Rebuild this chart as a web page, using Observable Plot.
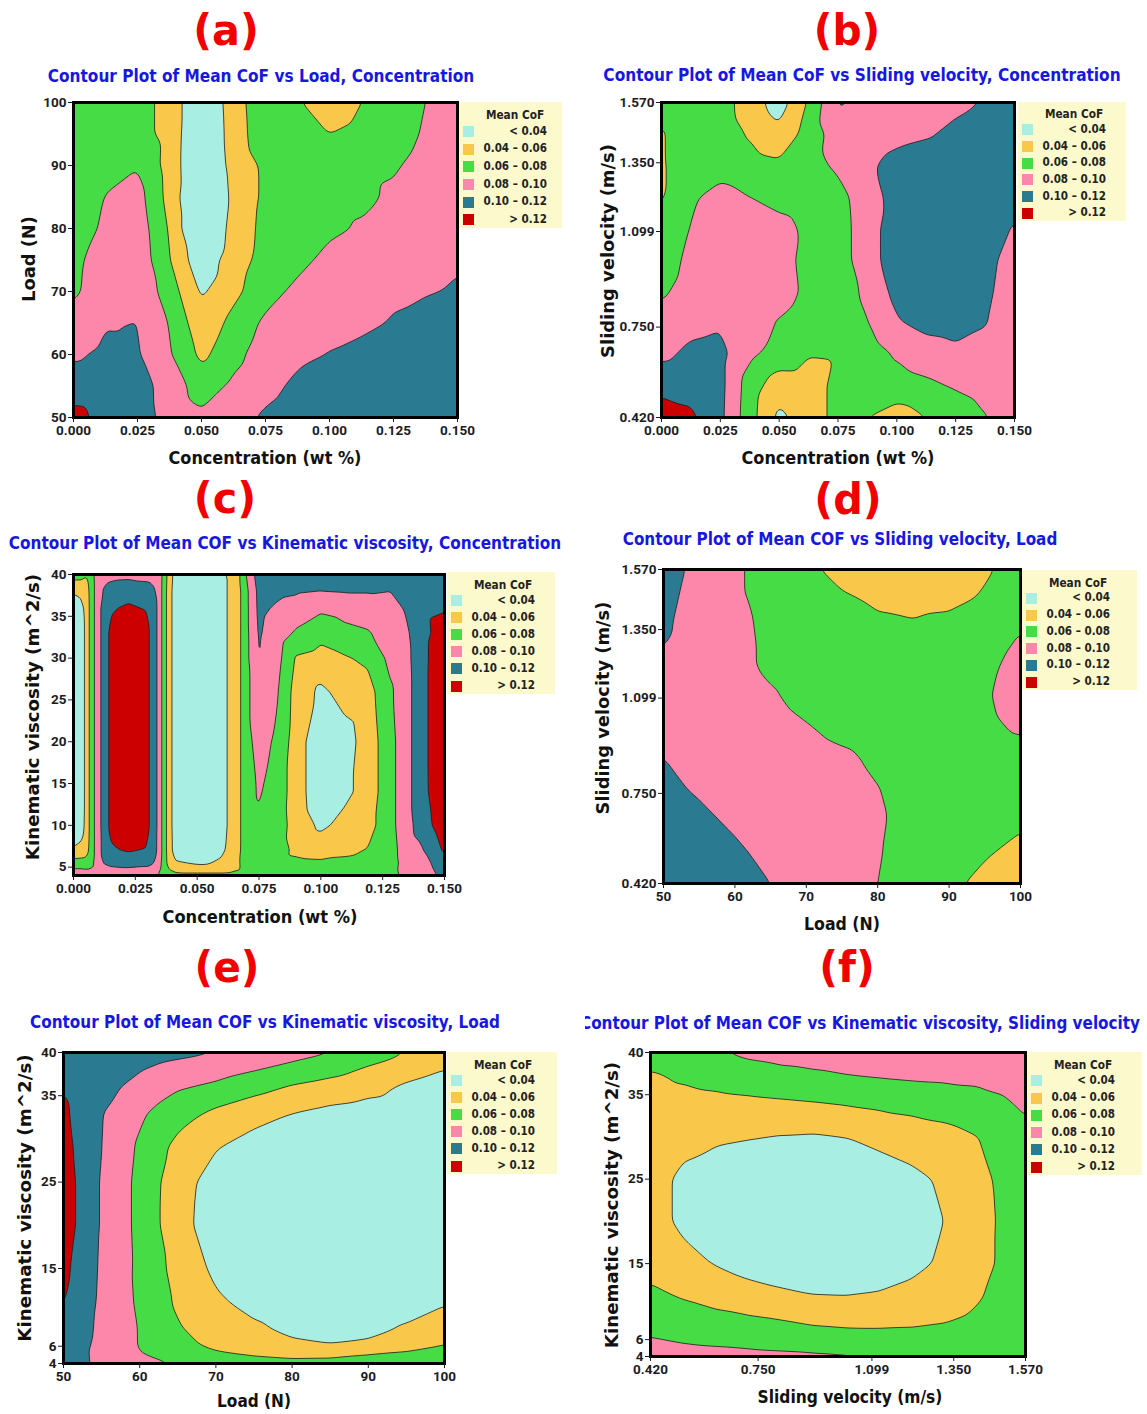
<!DOCTYPE html>
<html>
<head>
<meta charset="utf-8">
<script src="https://cdn.jsdelivr.net/npm/d3@7"></script>
<script src="https://cdn.jsdelivr.net/npm/@observablehq/plot@0.6"></script>
<style>
  body { margin: 0; background: #fff; }
  #page { position: relative; width: 1147px; height: 1414px; overflow: hidden; background: #fff; font-family: Roboto, "DejaVu Sans", sans-serif; }
  .txt { position: absolute; white-space: nowrap; line-height: 1; }
  .tag { color: #f20000; font-family: "DejaVu Sans", sans-serif; font-weight: bold; font-size: 42px; }
  .ttl { color: #1717e2; font-family: "DejaVu Sans", sans-serif; font-weight: bold; font-size: 17px; }
  .axt { color: #111; font-family: "DejaVu Sans", sans-serif; font-weight: bold; font-size: 17px; }
  .leg { position: absolute; background: #fcf9cc; }
  .leg .lt { position: absolute; font-family: "DejaVu Sans", sans-serif; font-size: 12px; font-weight: bold; color: #222; white-space: nowrap; line-height: 1; transform: translate(-50%, -50%) scaleX(0.88); }
  .leg .sw { position: absolute; width: 11px; height: 11px; }
  .leg .ll { position: absolute; font-family: "DejaVu Sans", sans-serif; font-size: 11.5px; font-weight: bold; color: #222; white-space: pre; line-height: 1; transform: translate(-100%, -50%) scaleX(0.9); transform-origin: 100% 50%; }
</style>
</head>
<body>
<div id="page"></div>
<script>
// ---- Mean CoF bands shared by all six panels ----
const cofBreaks = [0.04, 0.06, 0.08, 0.10, 0.12];
const cofColors = ["#a8eee3", "#f9c84b", "#45dc45", "#fd87aa", "#2a7a91", "#cc0000"];
const legendLabels = ["< 0.04", "0.04 \u2013 0.06", "0.06 \u2013 0.08", "0.08 \u2013 0.10", "0.10 \u2013 0.12", "> 0.12"];

// ---- axis ticks ----
const concTicks = [0, 0.025, 0.05, 0.075, 0.1, 0.125, 0.15];
const loadTicksA = [50, 60, 70, 80, 90, 100];
const loadTicks = [50, 60, 70, 80, 90, 100];
const velTicks = [0.42, 0.75, 1.099, 1.35, 1.57];
const viscTicksC = [5, 10, 15, 20, 25, 30, 35, 40];
const viscTicks = [4, 6, 15, 25, 35, 40];

// ---- (a) Mean CoF over Concentration x Load (rows follow aLoad) ----
const aConc = [0, 0.0125, 0.025, 0.0375, 0.05, 0.0625, 0.075, 0.0875, 0.1, 0.1125, 0.125, 0.1375, 0.15];
const aLoad = [100, 95, 90, 85, 80, 75, 70, 65, 60, 55, 50];
const aCoF = [
  [0.070, 0.072, 0.068, 0.053, 0.020, 0.050, 0.076, 0.062, 0.048, 0.060, 0.070, 0.080, 0.090],
  [0.066, 0.072, 0.068, 0.053, 0.018, 0.049, 0.074, 0.068, 0.060, 0.066, 0.072, 0.082, 0.092],
  [0.061, 0.072, 0.079, 0.052, 0.018, 0.047, 0.064, 0.072, 0.074, 0.076, 0.078, 0.086, 0.094],
  [0.062, 0.081, 0.088, 0.053, 0.012, 0.045, 0.064, 0.072, 0.075, 0.076, 0.083, 0.088, 0.094],
  [0.068, 0.084, 0.092, 0.058, 0.010, 0.049, 0.065, 0.072, 0.076, 0.082, 0.088, 0.092, 0.096],
  [0.076, 0.088, 0.094, 0.061, 0.025, 0.052, 0.066, 0.074, 0.086, 0.092, 0.096, 0.098, 0.099],
  [0.077, 0.090, 0.096, 0.070, 0.037, 0.055, 0.072, 0.085, 0.094, 0.097, 0.098, 0.099, 0.101],
  [0.086, 0.099, 0.1005, 0.079, 0.046, 0.066, 0.084, 0.092, 0.096, 0.097, 0.101, 0.105, 0.107],
  [0.097, 0.104, 0.102, 0.082, 0.055, 0.074, 0.090, 0.096, 0.1005, 0.104, 0.108, 0.110, 0.112],
  [0.110, 0.110, 0.108, 0.092, 0.070, 0.084, 0.094, 0.104, 0.110, 0.112, 0.113, 0.114, 0.115],
  [0.126, 0.114, 0.108, 0.094, 0.084, 0.093, 0.103, 0.110, 0.114, 0.115, 0.116, 0.117, 0.118]
];

// ---- (b) Mean CoF over Concentration x Sliding velocity (rows follow bVel) ----
const bConc = [0, 0.0125, 0.025, 0.0375, 0.05, 0.0625, 0.075, 0.0875, 0.1, 0.1125, 0.125, 0.1375, 0.15];
const bVel = [1.57, 1.455, 1.34, 1.225, 1.11, 0.995, 0.88, 0.765, 0.65, 0.535, 0.42];
const bCoF = [
  [0.070, 0.072, 0.069, 0.050, 0.030, 0.062, 0.102, 0.095, 0.086, 0.090, 0.096, 0.101, 0.108],
  [0.058, 0.072, 0.070, 0.058, 0.045, 0.068, 0.090, 0.090, 0.095, 0.098, 0.104, 0.108, 0.110],
  [0.058, 0.070, 0.072, 0.068, 0.064, 0.072, 0.084, 0.097, 0.106, 0.110, 0.112, 0.112, 0.110],
  [0.058, 0.077, 0.087, 0.080, 0.072, 0.068, 0.072, 0.093, 0.106, 0.112, 0.115, 0.114, 0.112],
  [0.064, 0.081, 0.092, 0.095, 0.088, 0.075, 0.070, 0.092, 0.110, 0.115, 0.116, 0.112, 0.098],
  [0.070, 0.085, 0.095, 0.097, 0.090, 0.072, 0.070, 0.092, 0.110, 0.118, 0.117, 0.106, 0.092],
  [0.077, 0.088, 0.094, 0.096, 0.092, 0.074, 0.068, 0.085, 0.106, 0.116, 0.116, 0.104, 0.090],
  [0.088, 0.095, 0.098, 0.093, 0.078, 0.066, 0.066, 0.079, 0.098, 0.106, 0.108, 0.101, 0.090],
  [0.096, 0.104, 0.106, 0.084, 0.072, 0.061, 0.062, 0.070, 0.082, 0.090, 0.095, 0.094, 0.092],
  [0.114, 0.113, 0.106, 0.070, 0.048, 0.050, 0.066, 0.070, 0.072, 0.076, 0.082, 0.088, 0.092],
  [0.131, 0.124, 0.105, 0.068, 0.035, 0.050, 0.066, 0.060, 0.050, 0.060, 0.068, 0.079, 0.090]
];

// ---- (c) Mean CoF over Concentration x Kinematic viscosity (one column per cConc entry, values follow cVisc) ----
const cConc = [0, 0.003, 0.0056, 0.0071, 0.0098, 0.0123, 0.015, 0.0224, 0.0298, 0.0327, 0.0348, 0.0366, 0.0386, 0.041,
               0.052, 0.0655, 0.069, 0.0748, 0.082, 0.09, 0.1, 0.1095, 0.119, 0.128, 0.134, 0.14, 0.15];
const cVisc = [40, 38, 36, 33, 30, 26, 20, 14, 10, 7, 5.5, 4];
const cCoFColumns = [
  [0.070, 0.042, 0.030, 0.025, 0.025, 0.025, 0.025, 0.025, 0.028, 0.042, 0.070, 0.092],
  [0.068, 0.045, 0.033, 0.028, 0.028, 0.028, 0.028, 0.028, 0.030, 0.045, 0.070, 0.092],
  [0.062, 0.052, 0.050, 0.050, 0.050, 0.050, 0.050, 0.050, 0.050, 0.055, 0.070, 0.090],
  [0.072, 0.070, 0.070, 0.070, 0.070, 0.070, 0.070, 0.070, 0.070, 0.070, 0.074, 0.090],
  [0.090, 0.090, 0.090, 0.090, 0.090, 0.090, 0.090, 0.090, 0.090, 0.090, 0.090, 0.090],
  [0.092, 0.102, 0.110, 0.110, 0.110, 0.110, 0.110, 0.110, 0.110, 0.108, 0.101, 0.090],
  [0.094, 0.108, 0.118, 0.124, 0.124, 0.124, 0.124, 0.124, 0.124, 0.118, 0.104, 0.090],
  [0.095, 0.112, 0.123, 0.140, 0.145, 0.145, 0.145, 0.145, 0.140, 0.122, 0.106, 0.090],
  [0.094, 0.108, 0.118, 0.124, 0.124, 0.124, 0.124, 0.124, 0.124, 0.118, 0.104, 0.090],
  [0.092, 0.102, 0.110, 0.110, 0.110, 0.110, 0.110, 0.110, 0.110, 0.108, 0.100, 0.088],
  [0.090, 0.090, 0.090, 0.090, 0.090, 0.090, 0.090, 0.090, 0.090, 0.090, 0.086, 0.076],
  [0.072, 0.070, 0.070, 0.070, 0.070, 0.070, 0.070, 0.070, 0.070, 0.070, 0.070, 0.070],
  [0.052, 0.050, 0.050, 0.050, 0.050, 0.050, 0.050, 0.050, 0.050, 0.050, 0.052, 0.066],
  [0.033, 0.030, 0.030, 0.030, 0.030, 0.030, 0.030, 0.030, 0.030, 0.032, 0.042, 0.066],
  [0.028, 0.025, 0.025, 0.025, 0.025, 0.025, 0.025, 0.025, 0.025, 0.027, 0.036, 0.066],
  [0.045, 0.045, 0.045, 0.045, 0.045, 0.045, 0.045, 0.045, 0.045, 0.046, 0.050, 0.066],
  [0.075, 0.070, 0.070, 0.070, 0.070, 0.070, 0.070, 0.070, 0.070, 0.070, 0.070, 0.068],
  [0.110, 0.105, 0.104, 0.102, 0.101, 0.095, 0.088, 0.082, 0.077, 0.072, 0.070, 0.068],
  [0.110, 0.104, 0.098, 0.092, 0.088, 0.083, 0.077, 0.072, 0.070, 0.068, 0.066, 0.066],
  [0.108, 0.102, 0.093, 0.077, 0.058, 0.052, 0.050, 0.050, 0.052, 0.056, 0.064, 0.068],
  [0.110, 0.100, 0.084, 0.066, 0.053, 0.036, 0.025, 0.025, 0.036, 0.052, 0.063, 0.068],
  [0.110, 0.101, 0.088, 0.074, 0.058, 0.047, 0.032, 0.035, 0.046, 0.056, 0.064, 0.068],
  [0.110, 0.101, 0.092, 0.078, 0.064, 0.052, 0.048, 0.048, 0.052, 0.061, 0.066, 0.068],
  [0.110, 0.100, 0.095, 0.090, 0.085, 0.077, 0.074, 0.074, 0.074, 0.072, 0.072, 0.074],
  [0.112, 0.106, 0.101, 0.095, 0.092, 0.090, 0.090, 0.090, 0.090, 0.088, 0.086, 0.084],
  [0.115, 0.115, 0.113, 0.112, 0.112, 0.112, 0.112, 0.112, 0.108, 0.096, 0.090, 0.086],
  [0.099, 0.112, 0.118, 0.130, 0.135, 0.136, 0.136, 0.135, 0.132, 0.123, 0.112, 0.106]
];

// ---- (d) Mean CoF over Load x Sliding velocity (rows follow dVel) ----
const dLoad = [50, 55, 60, 65, 70, 75, 80, 85, 90, 95, 100];
const dVel = [1.57, 1.455, 1.34, 1.225, 1.11, 0.995, 0.88, 0.765, 0.65, 0.535, 0.42];
const dCoF = [
  [0.106, 0.096, 0.083, 0.072, 0.064, 0.054, 0.050, 0.050, 0.052, 0.058, 0.066],
  [0.104, 0.094, 0.083, 0.075, 0.068, 0.063, 0.058, 0.056, 0.057, 0.062, 0.070],
  [0.102, 0.094, 0.085, 0.076, 0.070, 0.066, 0.064, 0.063, 0.066, 0.072, 0.080],
  [0.098, 0.093, 0.086, 0.076, 0.071, 0.069, 0.068, 0.069, 0.071, 0.076, 0.085],
  [0.096, 0.094, 0.090, 0.082, 0.074, 0.071, 0.070, 0.071, 0.073, 0.078, 0.088],
  [0.097, 0.095, 0.092, 0.087, 0.081, 0.075, 0.072, 0.071, 0.072, 0.076, 0.083],
  [0.100, 0.096, 0.093, 0.090, 0.087, 0.083, 0.077, 0.072, 0.070, 0.070, 0.072],
  [0.104, 0.098, 0.095, 0.092, 0.089, 0.086, 0.0805, 0.074, 0.070, 0.068, 0.067],
  [0.108, 0.104, 0.097, 0.093, 0.090, 0.086, 0.082, 0.074, 0.069, 0.066, 0.063],
  [0.112, 0.108, 0.103, 0.095, 0.090, 0.086, 0.081, 0.074, 0.068, 0.062, 0.055],
  [0.116, 0.112, 0.107, 0.100, 0.093, 0.087, 0.080, 0.072, 0.064, 0.055, 0.050]
];

// ---- (e) Mean CoF over Load x Kinematic viscosity (rows follow eVisc) ----
const eLoad = [50, 52, 55, 60, 65, 70, 75, 80, 85, 90, 95, 100];
const eVisc = [40, 38, 36, 33, 29, 25, 20, 15, 11, 8, 6, 5, 4];
const eCoF = [
  [0.118, 0.115, 0.112, 0.108, 0.104, 0.1005, 0.094, 0.087, 0.081, 0.071, 0.060, 0.052],
  [0.118, 0.115, 0.109, 0.101, 0.094, 0.088, 0.081, 0.074, 0.067, 0.057, 0.048, 0.040],
  [0.119, 0.114, 0.105, 0.095, 0.082, 0.076, 0.067, 0.058, 0.052, 0.046, 0.037, 0.030],
  [0.124, 0.114, 0.101, 0.083, 0.068, 0.056, 0.047, 0.040, 0.035, 0.032, 0.030, 0.028],
  [0.127, 0.116, 0.100, 0.077, 0.054, 0.041, 0.032, 0.028, 0.026, 0.025, 0.025, 0.025],
  [0.128, 0.118, 0.098, 0.075, 0.048, 0.032, 0.026, 0.024, 0.024, 0.024, 0.024, 0.024],
  [0.128, 0.118, 0.098, 0.075, 0.047, 0.030, 0.025, 0.024, 0.024, 0.024, 0.024, 0.024],
  [0.125, 0.114, 0.097, 0.076, 0.053, 0.036, 0.028, 0.025, 0.025, 0.025, 0.026, 0.028],
  [0.121, 0.112, 0.096, 0.077, 0.057, 0.043, 0.035, 0.031, 0.029, 0.030, 0.033, 0.039],
  [0.114, 0.109, 0.095, 0.079, 0.062, 0.050, 0.043, 0.036, 0.033, 0.035, 0.042, 0.048],
  [0.112, 0.106, 0.094, 0.079, 0.066, 0.056, 0.049, 0.044, 0.041, 0.044, 0.051, 0.061],
  [0.112, 0.105, 0.093, 0.081, 0.071, 0.064, 0.059, 0.056, 0.057, 0.062, 0.066, 0.070],
  [0.112, 0.103, 0.096, 0.088, 0.079, 0.073, 0.068, 0.066, 0.066, 0.068, 0.070, 0.074]
];

// ---- (f) Mean CoF over Sliding velocity x Kinematic viscosity (rows follow fVisc) ----
const fVel = [0.42, 0.52, 0.62, 0.72, 0.82, 0.92, 1.02, 1.12, 1.22, 1.32, 1.42, 1.50, 1.57];
const fVisc = [40, 37, 34, 30, 25, 20, 15, 11, 8, 6, 4];
const fCoF = [
  [0.072, 0.076, 0.079, 0.083, 0.085, 0.086, 0.087, 0.088, 0.089, 0.090, 0.091, 0.092, 0.093],
  [0.056, 0.063, 0.068, 0.072, 0.075, 0.077, 0.079, 0.0805, 0.082, 0.083, 0.084, 0.086, 0.088],
  [0.050, 0.051, 0.053, 0.055, 0.057, 0.059, 0.0615, 0.064, 0.066, 0.068, 0.072, 0.077, 0.084],
  [0.050, 0.046, 0.043, 0.041, 0.039, 0.038, 0.040, 0.045, 0.050, 0.054, 0.0595, 0.066, 0.074],
  [0.048, 0.036, 0.030, 0.027, 0.026, 0.026, 0.027, 0.030, 0.035, 0.043, 0.054, 0.064, 0.072],
  [0.048, 0.036, 0.030, 0.027, 0.025, 0.025, 0.026, 0.028, 0.032, 0.040, 0.052, 0.063, 0.071],
  [0.054, 0.046, 0.039, 0.033, 0.030, 0.029, 0.029, 0.031, 0.035, 0.043, 0.053, 0.063, 0.070],
  [0.064, 0.059, 0.053, 0.048, 0.044, 0.041, 0.0405, 0.042, 0.046, 0.051, 0.058, 0.066, 0.072],
  [0.074, 0.071, 0.068, 0.065, 0.062, 0.058, 0.056, 0.056, 0.057, 0.0595, 0.064, 0.068, 0.072],
  [0.081, 0.078, 0.076, 0.074, 0.072, 0.070, 0.069, 0.068, 0.068, 0.069, 0.070, 0.072, 0.074],
  [0.088, 0.087, 0.086, 0.085, 0.084, 0.083, 0.082, 0.081, 0.0805, 0.0795, 0.079, 0.078, 0.077]
];

// ---------------------------------------------------------------
const page = document.getElementById("page");

function samples(xs, ys, rows) {
  return ys.flatMap((y, j) => xs.map((x, i) => ({x, y, v: rows[j][i]})));
}

// place a line of text centred on (cx, cy), squeezed/stretched to a target width
function placeText(parent, text, cls, cx, cy, targetW, rotate = false) {
  const el = document.createElement("div");
  el.className = "txt " + cls;
  el.textContent = text;
  el.style.left = cx + "px";
  el.style.top = cy + "px";
  parent.appendChild(el);
  const w = el.offsetWidth;
  const k = targetW ? targetW / w : 1;
  el.style.transform = `translate(-50%, -50%)${rotate ? " rotate(-90deg)" : ""} scaleX(${k})`;
  return el;
}

function legendBox([l, t, r, b]) {
  const w = r - l, h = b - t;
  const box = document.createElement("div");
  box.className = "leg";
  Object.assign(box.style, {left: l + "px", top: t + "px", width: w + "px", height: h + "px"});
  const title = document.createElement("div");
  title.className = "lt";
  title.textContent = "Mean CoF";
  Object.assign(title.style, {left: "56px", top: (0.105 * h) + "px"});
  box.appendChild(title);
  legendLabels.forEach((lab, i) => {
    const cy = (0.235 + i * 0.14) * h;
    const sw = document.createElement("div");
    sw.className = "sw";
    Object.assign(sw.style, {left: "4px", top: (cy - 5.5) + "px", background: cofColors[i]});
    box.appendChild(sw);
    const tx = document.createElement("div");
    tx.className = "ll";
    tx.textContent = lab;
    Object.assign(tx.style, {left: "88px", top: cy + "px"});
    box.appendChild(tx);
  });
  page.appendChild(box);
}

function contourPanel(o) {
  const [l, t, r, b] = o.frame;
  const mL = 50, mR = 6, mT = 6, mB = 30;
  const chart = Plot.plot({
    width: r - l + mL + mR,
    height: b - t + mT + mB,
    marginLeft: mL, marginRight: mR, marginTop: mT, marginBottom: mB,
    style: {fontFamily: "Roboto, 'DejaVu Sans', sans-serif", fontSize: "13.5px", fontWeight: "bold", color: "#1b1b24", background: "transparent", overflow: "visible"},
    x: {domain: o.xDomain},
    y: {domain: o.yDomain},
    color: {type: "threshold", domain: cofBreaks, range: cofColors},
    marks: [
      Plot.frame({fill: cofColors[0]}),
      Plot.contour(o.data, {
        x: "x", y: "y", fill: "v",
        thresholds: cofBreaks,
        interpolate: "barycentric",
        blur: o.blur, pixelSize: 1,
        stroke: "#1c1c1c", strokeWidth: 0.8
      }),
      Plot.frame({stroke: "#000", strokeWidth: 3}),
      Plot.axisX({ticks: o.xTicks, tickFormat: o.xFmt, tickSize: 5, tickPadding: 3, label: null}),
      Plot.axisY({ticks: o.yTicks, tickFormat: o.yFmt, tickSize: 5, tickPadding: 2, label: null})
    ]
  });
  chart.style.position = "absolute";
  chart.style.left = (l - mL) + "px";
  chart.style.top = (t - mT) + "px";
  page.appendChild(chart);

  legendBox(o.legend);
  placeText(page, o.tag, "tag", o.tagPos[0], o.tagPos[1], o.tagPos[2]);
  if (o.clipLeft != null) {
    const clip = document.createElement("div");
    Object.assign(clip.style, {position: "absolute", left: o.clipLeft + "px", top: (o.titlePos[1] - 20) + "px", width: (1147 - o.clipLeft) + "px", height: "40px", overflow: "hidden"});
    page.appendChild(clip);
    placeText(clip, o.title, "ttl", o.titlePos[0] - o.clipLeft, 20, o.titlePos[2]);
  } else {
    placeText(page, o.title, "ttl", o.titlePos[0], o.titlePos[1], o.titlePos[2]);
  }
  placeText(page, o.xTitle, "axt", o.xTitlePos[0], o.xTitlePos[1], o.xTitlePos[2]);
  placeText(page, o.yTitle, "axt", o.yTitlePos[0], o.yTitlePos[1], o.yTitlePos[2], true);
}

const f3 = d3.format(".3f");
const f0 = d => String(d);

contourPanel({
  tag: "(a)", tagPos: [226, 31, 66],
  title: "Contour Plot of Mean CoF vs Load, Concentration", titlePos: [261, 76, 426],
  frame: [73, 102, 457, 417], legend: [459, 102, 562, 228],
  data: samples(aConc, aLoad, aCoF), blur: 3,
  xDomain: [0, 0.15], yDomain: [50, 100],
  xTicks: concTicks, xFmt: f3, yTicks: loadTicksA, yFmt: f0,
  xTitle: "Concentration (wt %)", xTitlePos: [265, 458, 193],
  yTitle: "Load (N)", yTitlePos: [29, 259, 86]
});

contourPanel({
  tag: "(b)", tagPos: [847, 31, 66],
  title: "Contour Plot of Mean CoF vs Sliding velocity, Concentration", titlePos: [862, 75, 517],
  frame: [661, 102, 1014, 417], legend: [1018, 102, 1126, 221],
  data: samples(bConc, bVel, bCoF), blur: 3,
  xDomain: [0, 0.15], yDomain: [0.42, 1.57],
  xTicks: concTicks, xFmt: f3, yTicks: velTicks, yFmt: f3,
  xTitle: "Concentration (wt %)", xTitlePos: [838, 458, 193],
  yTitle: "Sliding velocity (m/s)", yTitlePos: [608, 251, 214]
});

contourPanel({
  tag: "(c)", tagPos: [225, 499, 62],
  title: "Contour Plot of Mean COF vs Kinematic viscosity, Concentration", titlePos: [285, 543, 552],
  frame: [73, 574, 444, 875], legend: [447, 572, 555, 694],
  data: samples(cConc, cVisc, d3.transpose(cCoFColumns)), blur: 1,
  xDomain: [0, 0.15], yDomain: [4, 40],
  xTicks: concTicks, xFmt: f3, yTicks: viscTicksC, yFmt: f0,
  xTitle: "Concentration (wt %)", xTitlePos: [260, 917, 195],
  yTitle: "Kinematic viscosity (m^2/s)", yTitlePos: [33, 717, 286]
});

contourPanel({
  tag: "(d)", tagPos: [848, 500, 67],
  title: "Contour Plot of Mean COF vs Sliding velocity, Load", titlePos: [840, 539, 435],
  frame: [663, 569, 1020, 883], legend: [1022, 570, 1137, 690],
  data: samples(dLoad, dVel, dCoF), blur: 3,
  xDomain: [50, 100], yDomain: [0.42, 1.57],
  xTicks: loadTicks, xFmt: f0, yTicks: velTicks, yFmt: f3,
  xTitle: "Load (N)", xTitlePos: [842, 924, 76],
  yTitle: "Sliding velocity (m/s)", yTitlePos: [603, 708, 213]
});

contourPanel({
  tag: "(e)", tagPos: [227, 968, 65],
  title: "Contour Plot of Mean COF vs Kinematic viscosity, Load", titlePos: [265, 1022, 470],
  frame: [63, 1052, 444, 1363], legend: [447, 1052, 557, 1174],
  data: samples(eLoad, eVisc, eCoF), blur: 3,
  xDomain: [50, 100], yDomain: [4, 40],
  xTicks: loadTicks, xFmt: f0, yTicks: viscTicks, yFmt: f0,
  xTitle: "Load (N)", xTitlePos: [254, 1401, 74],
  yTitle: "Kinematic viscosity (m^2/s)", yTitlePos: [25, 1198, 287]
});

contourPanel({
  tag: "(f)", tagPos: [847, 968, 56],
  title: "Contour Plot of Mean COF vs Kinematic viscosity, Sliding velocity", titlePos: [860, 1023, 560], clipLeft: 585,
  frame: [650, 1052, 1025, 1356], legend: [1027, 1052, 1142, 1175],
  data: samples(fVel, fVisc, fCoF), blur: 3,
  xDomain: [0.42, 1.57], yDomain: [4, 40],
  xTicks: velTicks, xFmt: f3, yTicks: viscTicks, yFmt: f0,
  xTitle: "Sliding velocity (m/s)", xTitlePos: [850, 1397, 185],
  yTitle: "Kinematic viscosity (m^2/s)", yTitlePos: [612, 1205, 286]
});
</script>
</body>
</html>
